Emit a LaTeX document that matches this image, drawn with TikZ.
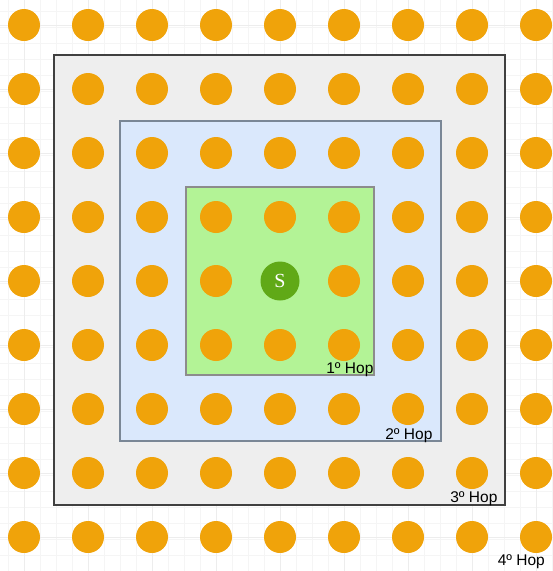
\documentclass[tikz,border=0pt]{standalone}
\usepackage{fontspec}
\setmainfont{Liberation Sans}
\newfontfamily\srcfont{Liberation Serif}
\usepackage{xcolor}
\usepackage{tikz}
\usetikzlibrary{calc}

\definecolor{dotorange}{HTML}{F0A30A}
\definecolor{srcgreen}{HTML}{60A917}
\definecolor{hopone}{HTML}{B3F396}
\definecolor{hoptwo}{HTML}{DAE8FC}
\definecolor{hopthree}{HTML}{EEEEEE}
\definecolor{twoline}{HTML}{7A8796}

\begin{document}
\begin{tikzpicture}[x=1pt,y=-1pt,
  minorline/.style={draw=black!4,line width=0.8pt},
  majorline/.style={draw=black!7,line width=0.8pt},
  dot/.style={circle,fill=dotorange,inner sep=0pt,minimum size=32pt},
  src/.style={circle,fill=srcgreen,inner sep=0pt,minimum size=39pt,text=white,font=\srcfont\fontsize{20}{20}\selectfont},
  hopbox/.style={draw,rectangle,inner sep=0pt,line width=1.2pt},
  hoplabel/.style={anchor=base east,inner sep=0pt,font=\fontsize{15.5}{18}\selectfont}]
\useasboundingbox (0,0) rectangle (553,571);
% background grid
\foreach \g in {8,24,...,552} {
  \draw[minorline] (\g,0) -- (\g,571);
}
\foreach \g in {11,27,...,571} {
  \draw[minorline] (0,\g) -- (553,\g);
}
\foreach \g in {24,88,...,536} {
  \draw[majorline] (\g,0) -- (\g,571);
}
\foreach \g in {25,89,...,537} {
  \draw[majorline] (0,\g) -- (553,\g);
}
% hop areas
\node[hopbox,draw=black!75,fill=hopthree,minimum width=451pt,minimum height=450pt] (hop3) at (279.5,280) {};
\node[hopbox,draw=twoline,fill=hoptwo,minimum width=321pt,minimum height=320pt] (hop2) at (280.5,281) {};
\node[hopbox,draw=gray!90,fill=hopone,minimum width=188pt,minimum height=188pt] (hop1) at (280,281) {};
% nodes
\foreach \i in {0,...,8} {
  \foreach \j in {0,...,8} {
    \ifnum\i=4 \ifnum\j=4 \else
      \node[dot] (n-\i-\j) at (24+64*\i,25+64.0*\j) {};
    \fi \else
      \node[dot] (n-\i-\j) at (24+64*\i,25+64.0*\j) {};
    \fi
  }
}
\node[src] (s) at (280,281) {S};
% labels
\node[hoplabel] (l1) at ($(hop1.south east)+(-1,-2)$) {1º Hop};
\node[hoplabel] (l2) at ($(hop2.south east)+(-9,-2)$) {2º Hop};
\node[hoplabel] (l3) at ($(hop3.south east)+(-8,-3)$) {3º Hop};
\node[hoplabel] (l4) at (545,565) {4º Hop};
\end{tikzpicture}
\end{document}
